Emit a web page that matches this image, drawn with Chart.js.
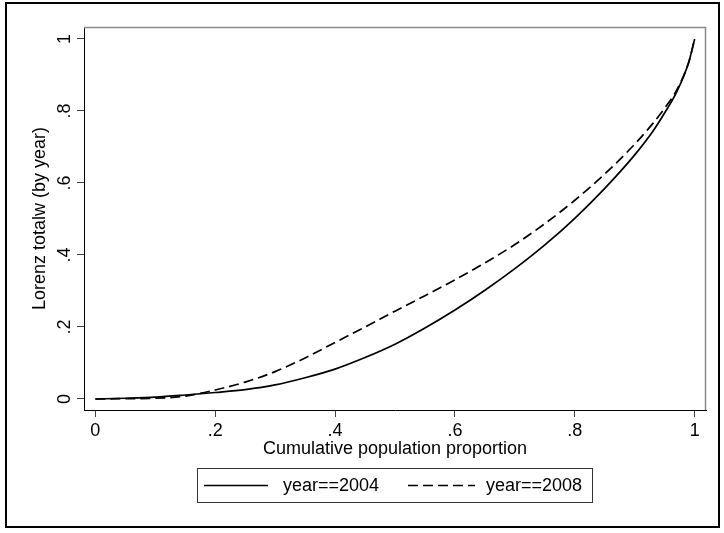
<!DOCTYPE html>
<html>
<head>
<meta charset="utf-8">
<script src="https://cdn.jsdelivr.net/npm/chart.js@4/dist/chart.umd.min.js"></script>
<style>
  html, body { margin: 0; padding: 0; background: #fff; }
  #wrap { position: relative; width: 724px; height: 533px; }
</style>
</head>
<body>
<div id="wrap"><canvas id="c" width="724" height="533"></canvas></div>
<script>
// ---- data ----
const popShare = [0, 0.05, 0.1, 0.15, 0.2, 0.25, 0.3, 0.35, 0.4, 0.45, 0.5, 0.55, 0.6, 0.65, 0.7, 0.75, 0.8, 0.85, 0.9, 0.93, 0.95, 0.97, 0.99, 1.0];
const lorenz2004 = [0, 0.002, 0.005, 0.011, 0.018, 0.026, 0.039, 0.059, 0.083, 0.115, 0.152, 0.197, 0.247, 0.302, 0.362, 0.428, 0.502, 0.585, 0.678, 0.743, 0.795, 0.853, 0.935, 1.0];
const lorenz2008 = [0, 0.001, 0.002, 0.008, 0.025, 0.047, 0.076, 0.114, 0.157, 0.200, 0.244, 0.287, 0.331, 0.378, 0.429, 0.487, 0.552, 0.625, 0.708, 0.765, 0.808, 0.858, 0.935, 1.0];
const seriesLabels = ['year==2004', 'year==2008'];
const xTickValues = [0, 0.2, 0.4, 0.6, 0.8, 1];
const xTickLabels = ['0', '.2', '.4', '.6', '.8', '1'];
const yTickValues = [0, 0.2, 0.4, 0.6, 0.8, 1];
const yTickLabels = ['0', '.2', '.4', '.6', '.8', '1'];
const xTitle = 'Cumulative population proportion';
const yTitle = 'Lorenz totalw (by year)';

const FONT = '"Liberation Sans", Arial, Helvetica, sans-serif';

function toPoints(ys) { return popShare.map((x, i) => ({ x: x, y: ys[i] })); }
function tickLabel(values, labels) {
  return function (v) {
    for (let i = 0; i < values.length; i++) if (Math.abs(values[i] - v) < 1e-9) return labels[i];
    return '';
  };
}

const framePlugin = {
  id: 'frame',
  beforeDraw(chart) {
    const ctx = chart.ctx;
    ctx.save();
    ctx.fillStyle = '#fff';
    ctx.fillRect(0, 0, chart.width, chart.height);
    ctx.strokeStyle = '#000';
    ctx.lineWidth = 2;
    ctx.strokeRect(6, 3, 713, 524);
    ctx.restore();
  },
  afterDatasetsDraw(chart) {
    const ctx = chart.ctx, a = chart.chartArea;
    ctx.save();
    ctx.strokeStyle = '#8a8a8a';
    ctx.lineWidth = 1.5;
    ctx.beginPath();
    ctx.moveTo(a.left, a.top + 0.5);
    ctx.lineTo(a.right - 0.5, a.top + 0.5);
    ctx.lineTo(a.right - 0.5, a.bottom);
    ctx.stroke();
    ctx.restore();
  },
  afterDraw(chart) {
    const ctx = chart.ctx;
    const bx = 197, by = 468, bw = 395, bh = 34;
    ctx.save();
    ctx.strokeStyle = '#333';
    ctx.lineWidth = 1;
    ctx.strokeRect(bx + 0.5, by + 0.5, bw, bh);
    const ly = by + 17.5;
    const items = [{ x1: 204, x2: 268, tx: 283 }, { x1: 408, x2: 475, tx: 486 }];
    chart.data.datasets.forEach((ds, i) => {
      const it = items[i];
      ctx.strokeStyle = ds.borderColor;
      ctx.lineWidth = 1.5;
      ctx.setLineDash(ds.borderDash || []);
      ctx.beginPath();
      ctx.moveTo(it.x1, ly);
      ctx.lineTo(it.x2, ly);
      ctx.stroke();
      ctx.setLineDash([]);
      ctx.fillStyle = '#000';
      ctx.font = '18px ' + FONT;
      ctx.textBaseline = 'middle';
      ctx.textAlign = 'left';
      ctx.fillText(ds.label, it.tx, ly + 1);
    });
    ctx.restore();
  }
};

new Chart(document.getElementById('c'), {
  type: 'scatter',
  data: {
    datasets: [
      { label: seriesLabels[0], data: toPoints(lorenz2004), showLine: true, borderColor: '#000', borderWidth: 1.7, pointRadius: 0, cubicInterpolationMode: 'monotone', fill: false },
      { label: seriesLabels[1], data: toPoints(lorenz2008), showLine: true, borderColor: '#000', borderWidth: 1.7, borderDash: [10, 5], pointRadius: 0, cubicInterpolationMode: 'monotone', fill: false }
    ]
  },
  options: {
    responsive: false,
    animation: false,
    devicePixelRatio: 1,
    layout: { padding: { left: 0, top: 27, right: 18, bottom: 0 } },
    plugins: { legend: { display: false }, tooltip: { enabled: false } },
    scales: {
      x: {
        type: 'linear',
        min: -0.0189, max: 1.0189,
        afterBuildTicks(s) { s.ticks = xTickValues.map(v => ({ value: v })); },
        afterFit(s) { s.height = 123; },
        border: { display: true, color: '#000', width: 1 },
        grid: { display: true, drawOnChartArea: false, drawTicks: true, tickLength: 7, color: '#444', tickColor: '#444' },
        ticks: { color: '#000', font: { family: FONT, size: 18 }, padding: 3, maxRotation: 0, minRotation: 0, callback: tickLabel(xTickValues, xTickLabels) },
        title: { display: true, text: xTitle, color: '#000', font: { family: FONT, size: 18 }, padding: { top: 0, bottom: 73 } }
      },
      y: {
        type: 'linear',
        min: -0.0306, max: 1.0333,
        afterBuildTicks(s) { s.ticks = yTickValues.map(v => ({ value: v })); },
        afterFit(s) { s.width = 84; },
        border: { display: true, color: '#000', width: 1 },
        grid: { display: true, drawOnChartArea: false, drawTicks: true, tickLength: 7, color: '#444', tickColor: '#444' },
        ticks: { color: '#000', font: { family: FONT, size: 18 }, padding: 4, minRotation: 90, maxRotation: 90, crossAlign: 'center', callback: tickLabel(yTickValues, yTickLabels) },
        title: { display: true, text: yTitle, color: '#000', font: { family: FONT, size: 18 }, padding: { top: 29, bottom: 0 } }
      }
    }
  },
  plugins: [framePlugin]
});
</script>
</body>
</html>
